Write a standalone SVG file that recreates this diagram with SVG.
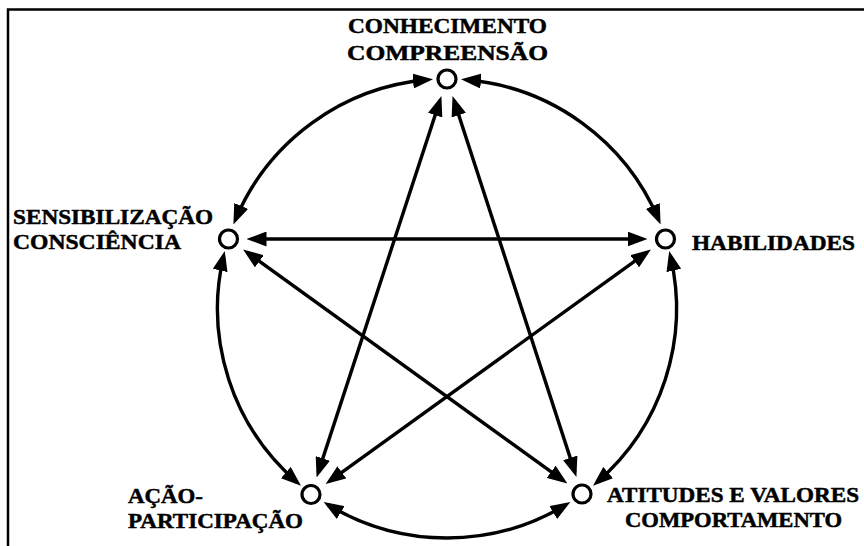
<svg xmlns="http://www.w3.org/2000/svg" width="864" height="546" viewBox="0 0 864 546">
<style>
.lbl{font-family:"Liberation Serif","Times New Roman",serif;font-weight:bold;font-size:22px;fill:#000;stroke:#000;stroke-width:0.5}
.node{fill:#fff;stroke:#000;stroke-width:3.2}
.con{fill:none;stroke:#000;stroke-width:3.4;marker-start:url(#ah);marker-end:url(#ah)}
</style>
<defs>
<marker id="ah" viewBox="0 0 20 15" refX="15" refY="7.5" markerWidth="20" markerHeight="15" markerUnits="userSpaceOnUse" orient="auto-start-reverse">
<path d="M0,0 L20,7.5 L0,15 z" fill="#000"/>
</marker>
</defs>
<rect width="864" height="546" fill="#fff"/>
<path d="M8,546 V9.5 H864" fill="none" stroke="#000" stroke-width="2.5"/>
<g id="connectors">
<path class="con" d="M465.98,79.78 A229.5,229.5 0 0 1 658.65,219.78"/>
<path class="con" d="M670.38,255.87 A229.5,229.5 0 0 1 596.8,482.37"/>
<path class="con" d="M566.08,504.69 A229.5,229.5 0 0 1 327.92,504.69"/>
<path class="con" d="M297.2,482.37 A229.5,229.5 0 0 1 223.62,255.87"/>
<path class="con" d="M235.35,219.78 A229.5,229.5 0 0 1 428.02,79.78"/>
<path class="con" d="M439.85,100.86 L318.15,472.64"/>
<path class="con" d="M454.12,100.87 L574.88,472.13"/>
<path class="con" d="M251.5,239 L642.5,239"/>
<path class="con" d="M247.15,252.46 L563.35,480.55"/>
<path class="con" d="M646.84,252.45 L329.66,481.05"/>
</g>
<g id="conhecimento">
<circle class="node" cx="447" cy="79" r="9"/>
<text class="lbl" x="348" y="33" textLength="199" lengthAdjust="spacingAndGlyphs">CONHECIMENTO</text>
<text class="lbl" x="347" y="60" textLength="201" lengthAdjust="spacingAndGlyphs">COMPREENSÃO</text>
</g>
<g id="sensibilizacao">
<circle class="node" cx="228.5" cy="239" r="9"/>
<text class="lbl" x="13" y="224" textLength="200" lengthAdjust="spacingAndGlyphs">SENSIBILIZAÇÃO</text>
<text class="lbl" x="13" y="249" textLength="168" lengthAdjust="spacingAndGlyphs">CONSCIÊNCIA</text>
</g>
<g id="habilidades">
<circle class="node" cx="665.5" cy="239" r="9"/>
<text class="lbl" x="692" y="250" textLength="163" lengthAdjust="spacingAndGlyphs">HABILIDADES</text>
</g>
<g id="atitudes">
<circle class="node" cx="582" cy="494" r="9"/>
<text class="lbl" x="607" y="502" textLength="252" lengthAdjust="spacingAndGlyphs">ATITUDES E VALORES</text>
<text class="lbl" x="625" y="527" textLength="217" lengthAdjust="spacingAndGlyphs">COMPORTAMENTO</text>
</g>
<g id="acao">
<circle class="node" cx="311" cy="494.5" r="9"/>
<text class="lbl" x="128" y="503" textLength="75" lengthAdjust="spacingAndGlyphs">AÇÃO-</text>
<text class="lbl" x="128" y="528" textLength="175" lengthAdjust="spacingAndGlyphs">PARTICIPAÇÃO</text>
</g>
</svg>
